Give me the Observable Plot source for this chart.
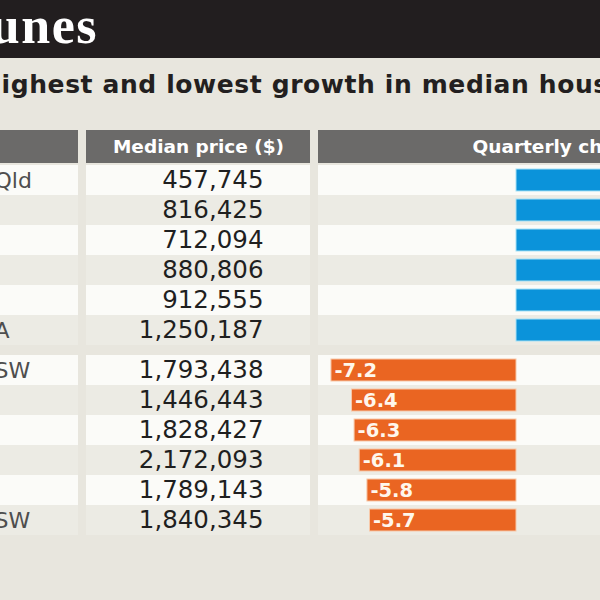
<!DOCTYPE html>
<html>
<head>
<meta charset="utf-8">
<script src="https://cdn.jsdelivr.net/npm/d3@7"></script>
<script src="https://cdn.jsdelivr.net/npm/@observablehq/plot@0.6"></script>
<style>
  html, body { margin: 0; padding: 0; }
  body { width: 600px; height: 600px; overflow: hidden; background: #e8e6de; font-family: "DejaVu Sans", sans-serif; }
  #title { position: relative; height: 58px; background: #221e1f; overflow: hidden; }
  #title span { position: absolute; right: 502px; top: 0px; font: bold 52px/52px "Liberation Serif", serif; color: #fff; white-space: nowrap; letter-spacing: 1.5px; }
  #sub { position: relative; height: 70px; overflow: hidden; }
  #sub span { position: absolute; left: -20px; top: 14px; font: bold 25px/25px "DejaVu Sans", sans-serif; color: #231f20; white-space: nowrap; letter-spacing: 0.6px; }
  #chart svg { display: block; }
</style>
</head>
<body>
<div id="title"><span>Mixed fortunes</span></div>
<div id="sub"><span>Highest and lowest growth in median house prices</span></div>
<div id="chart"></div>
<script>
// Table rows: top group = highest quarterly growth, bottom group = lowest
const names   = ["Qld", "", "", "", "", "A", "SW", "", "", "", "", "SW"];
const prices  = [457745, 816425, 712094, 880806, 912555, 1250187,
                 1793438, 1446443, 1828427, 2172093, 1789143, 1840345];
const changes = [8.9, 8.4, 8.1, 7.9, 7.6, 7.5,
                 -7.2, -6.4, -6.3, -6.1, -5.8, -5.7];
const headers = ["", "Median price ($)", "Quarterly change (%)"];

// Layout (pixels)
const W = 600, H = 472;
const ROW_PX = 30;            // height of one table row
const TOP_PX = 37;            // header band above the first row
const BOTTOM_PX = 65;         // empty band below the last row
const GROUP_GAP = 1 / 3;      // gap between the two groups, in rows
const ZERO_PX = 516;          // where 0% sits
const PX_PER_UNIT = 25.7;     // pixels per percentage point
const toX = p => (p - ZERO_PX) / PX_PER_UNIT;
const columns = [[-10, 78], [86, 310], [318, 610]];

const rows = prices.map((price, i) => {
  const group = i < 6 ? 0 : 1;
  const y1 = i + group * GROUP_GAP;
  return {i, name: names[i], price, change: changes[i], y1, y2: y1 + 1, ym: y1 + 0.5};
});
const totalRows = 12 + GROUP_GAP;
const falls = rows.filter(r => r.change < 0);
const rises = rows.filter(r => r.change >= 0);

const cells = rows.flatMap(r => columns.map(([a, b]) => ({
  x1: toX(a), x2: toX(b), y1: r.y1, y2: r.y2, fill: r.i % 2 === 0 ? "#fbfbf8" : "#ecebe4"
})));
const headerCells = columns.map(([a, b], k) => ({x1: toX(a), x2: toX(b), label: headers[k]}));
const hy1 = -(TOP_PX - 2) / ROW_PX, hy2 = -2 / ROW_PX;

const fmt = d3.format(",");
const headText = {fill: "#fff", fontWeight: "bold", fontSize: 18.5, letterSpacing: 0.6};
const barText = {y: "ym", text: d => d.change.toFixed(1), fill: "#fff7ec", fontWeight: "bold", fontSize: 19.5};

const chart = Plot.plot({
  width: W,
  height: H,
  margin: 0,
  x: {domain: [toX(0), toX(W)], range: [0, W], axis: null},
  y: {domain: [-TOP_PX / ROW_PX, totalRows + BOTTOM_PX / ROW_PX], range: [0, H], axis: null},
  style: {background: "transparent", fontFamily: "DejaVu Sans, sans-serif", overflow: "hidden"},
  marks: [
    // header band
    Plot.rect(headerCells, {x1: "x1", x2: "x2", y1: hy1, y2: hy2, fill: "#6b6a69"}),
    Plot.text(headerCells.slice(1, 2), {
      x: d => (d.x1 + d.x2) / 2, y: (hy1 + hy2) / 2, text: "label", ...headText
    }),
    Plot.text(headerCells.slice(2), {
      x: toX(472), y: (hy1 + hy2) / 2, text: "label", textAnchor: "start", ...headText
    }),
    // striped row backgrounds
    Plot.rect(cells, {x1: "x1", x2: "x2", y1: "y1", y2: "y2", fill: "fill"}),
    // quarterly change bars
    Plot.rect(rows, {
      x1: 0, x2: "change", y1: "y1", y2: "y2", insetTop: 4, insetBottom: 4,
      fill: d => d.change < 0 ? "#ea6522" : "#0b93da",
      stroke: d => d.change < 0 ? "#f7c8a8" : "#a8e2f5", strokeWidth: 1
    }),
    Plot.text(falls, {x: "change", textAnchor: "start", dx: 3, ...barText}),
    Plot.text(rises, {x: "change", textAnchor: "end", dx: -3, ...barText}),
    // median prices
    Plot.text(rows, {
      frameAnchor: "left", dx: 263, y: "ym", text: d => fmt(d.price),
      textAnchor: "end", fill: "#1f1f1f", fontSize: 24.5, letterSpacing: 1.1
    }),
    // area names
    Plot.text(rows.filter(r => r.name), {
      frameAnchor: "left", dx: -6, y: "ym", text: "name",
      textAnchor: "start", fill: "#4e4e4e", fontSize: 22
    })
  ]
});
document.getElementById("chart").append(chart);
</script>
</body>
</html>
